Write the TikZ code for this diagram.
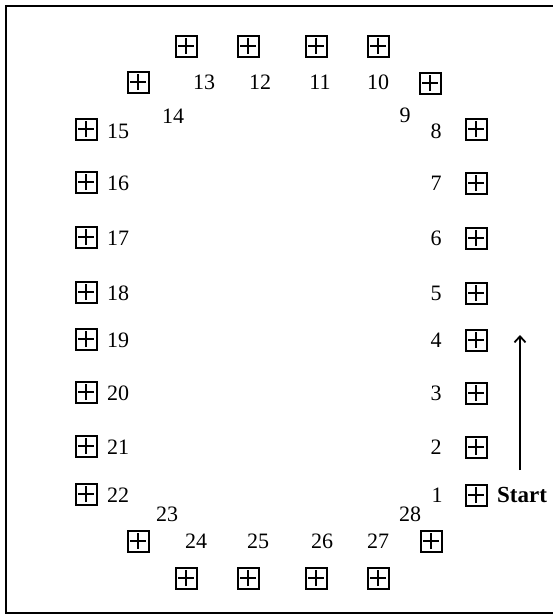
\documentclass[tikz,border=0pt]{standalone}
\usepackage{fontspec}
\setmainfont{Liberation Serif}
\usetikzlibrary{arrows.meta}
\begin{document}
\begin{tikzpicture}[x=1pt,y=-1pt,
  pbox/.style={draw,line width=2pt,minimum size=21pt,inner sep=0pt,
    path picture={
      \draw[line width=1.8pt] ([xshift=-8pt]path picture bounding box.center) -- ([xshift=8pt]path picture bounding box.center);
      \draw[line width=1.8pt] ([yshift=-8pt]path picture bounding box.center) -- ([yshift=8pt]path picture bounding box.center);}},
  num/.style={font=\fontsize{22}{25}\selectfont,inner sep=0pt},
  lbl/.style={font=\bfseries\fontsize{23}{26}\selectfont,inner sep=0pt}]
\useasboundingbox (0,0) rectangle (553,614);
\draw[line width=1.6pt] (6,6) rectangle (562,613);
% boxes
\node[pbox] (b1) at (476,495) {};
\node[pbox] (b2) at (476,447) {};
\node[pbox] (b3) at (476,393) {};
\node[pbox] (b4) at (476,340) {};
\node[pbox] (b5) at (476,293) {};
\node[pbox] (b6) at (476,238) {};
\node[pbox] (b7) at (476,183) {};
\node[pbox] (b8) at (476,129) {};
\node[pbox] (b9) at (430,83) {};
\node[pbox] (b10) at (378,46) {};
\node[pbox] (b11) at (316,46) {};
\node[pbox] (b12) at (248,46) {};
\node[pbox] (b13) at (186,46) {};
\node[pbox] (b14) at (138,82) {};
\node[pbox] (b15) at (86,129) {};
\node[pbox] (b16) at (86,182) {};
\node[pbox] (b17) at (86,237) {};
\node[pbox] (b18) at (86,292) {};
\node[pbox] (b19) at (86,339) {};
\node[pbox] (b20) at (86,392) {};
\node[pbox] (b21) at (86,446) {};
\node[pbox] (b22) at (86,494) {};
\node[pbox] (b23) at (138,541) {};
\node[pbox] (b24) at (186,578) {};
\node[pbox] (b25) at (248,578) {};
\node[pbox] (b26) at (316,578) {};
\node[pbox] (b27) at (378,578) {};
\node[pbox] (b28) at (431,541) {};
% labels
\node[num] (n1) at (437,495) {1};
\node[num] (n2) at (436,447) {2};
\node[num] (n3) at (436,393) {3};
\node[num] (n4) at (436,340) {4};
\node[num] (n5) at (436,293) {5};
\node[num] (n6) at (436,238) {6};
\node[num] (n7) at (436,183) {7};
\node[num] (n8) at (436,131) {8};
\node[num] (n9) at (405,115) {9};
\node[num] (n10) at (378,82) {10};
\node[num] (n11) at (320,82) {11};
\node[num] (n12) at (260,82) {12};
\node[num] (n13) at (204,82) {13};
\node[num] (n14) at (173,116) {14};
\node[num] (n15) at (118,131) {15};
\node[num] (n16) at (118,183) {16};
\node[num] (n17) at (118,238) {17};
\node[num] (n18) at (118,293) {18};
\node[num] (n19) at (118,340) {19};
\node[num] (n20) at (118,393) {20};
\node[num] (n21) at (118,447) {21};
\node[num] (n22) at (118,495) {22};
\node[num] (n23) at (167,514) {23};
\node[num] (n24) at (196,541) {24};
\node[num] (n25) at (258,541) {25};
\node[num] (n26) at (322,541) {26};
\node[num] (n27) at (378,541) {27};
\node[num] (n28) at (410,514) {28};
\node[lbl,anchor=west] (start) at (497,495) {Start};
% arrow
\coordinate (aS) at (520,470);
\coordinate (aE) at (520,335);
\draw[line width=1.8pt,-{Straight Barb[length=6pt,width=11pt,line width=1.8pt]}] (aS) -- (aE);
\end{tikzpicture}
\end{document}
